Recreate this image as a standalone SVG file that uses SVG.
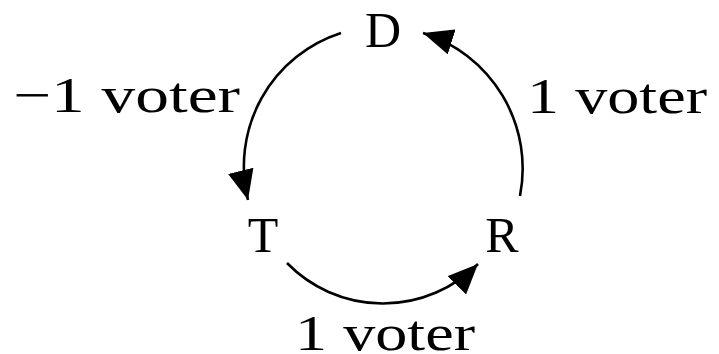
<svg xmlns="http://www.w3.org/2000/svg" width="719" height="354" viewBox="0 0 719 354">
<style>
text{font-family:"Liberation Serif","DejaVu Serif",serif;font-size:50px;fill:#000}
.n{text-anchor:middle}
.e{fill:none;stroke:#000;stroke-width:2.6}
</style>
<defs>
<marker id="ah" viewBox="0 0 30 26" refX="30" refY="13" markerWidth="30" markerHeight="26" markerUnits="userSpaceOnUse" orient="auto">
<path d="M0,0 L30,13 L0,26 z" fill="#000"/>
</marker>
</defs>
<rect width="719" height="354" fill="#fff"/>
<g id="connectors">
<path class="e" d="M341,33 A140,140 0 0 0 248,200" marker-end="url(#ah)"/>
<path class="e" d="M287,263 A134,134 0 0 0 478,264" marker-end="url(#ah)"/>
<path class="e" d="M520,196 A142,142 0 0 0 423,33" marker-end="url(#ah)"/>
<text x="13" y="112" textLength="227" lengthAdjust="spacingAndGlyphs">−1 voter</text>
<text x="527" y="113" textLength="180" lengthAdjust="spacingAndGlyphs">1 voter</text>
<text x="295" y="350" textLength="180" lengthAdjust="spacingAndGlyphs">1 voter</text>
</g>
<g id="D"><text class="n" x="383" y="47">D</text></g>
<g id="T"><text class="n" x="263" y="252">T</text></g>
<g id="R"><text class="n" x="502" y="252">R</text></g>
</svg>
